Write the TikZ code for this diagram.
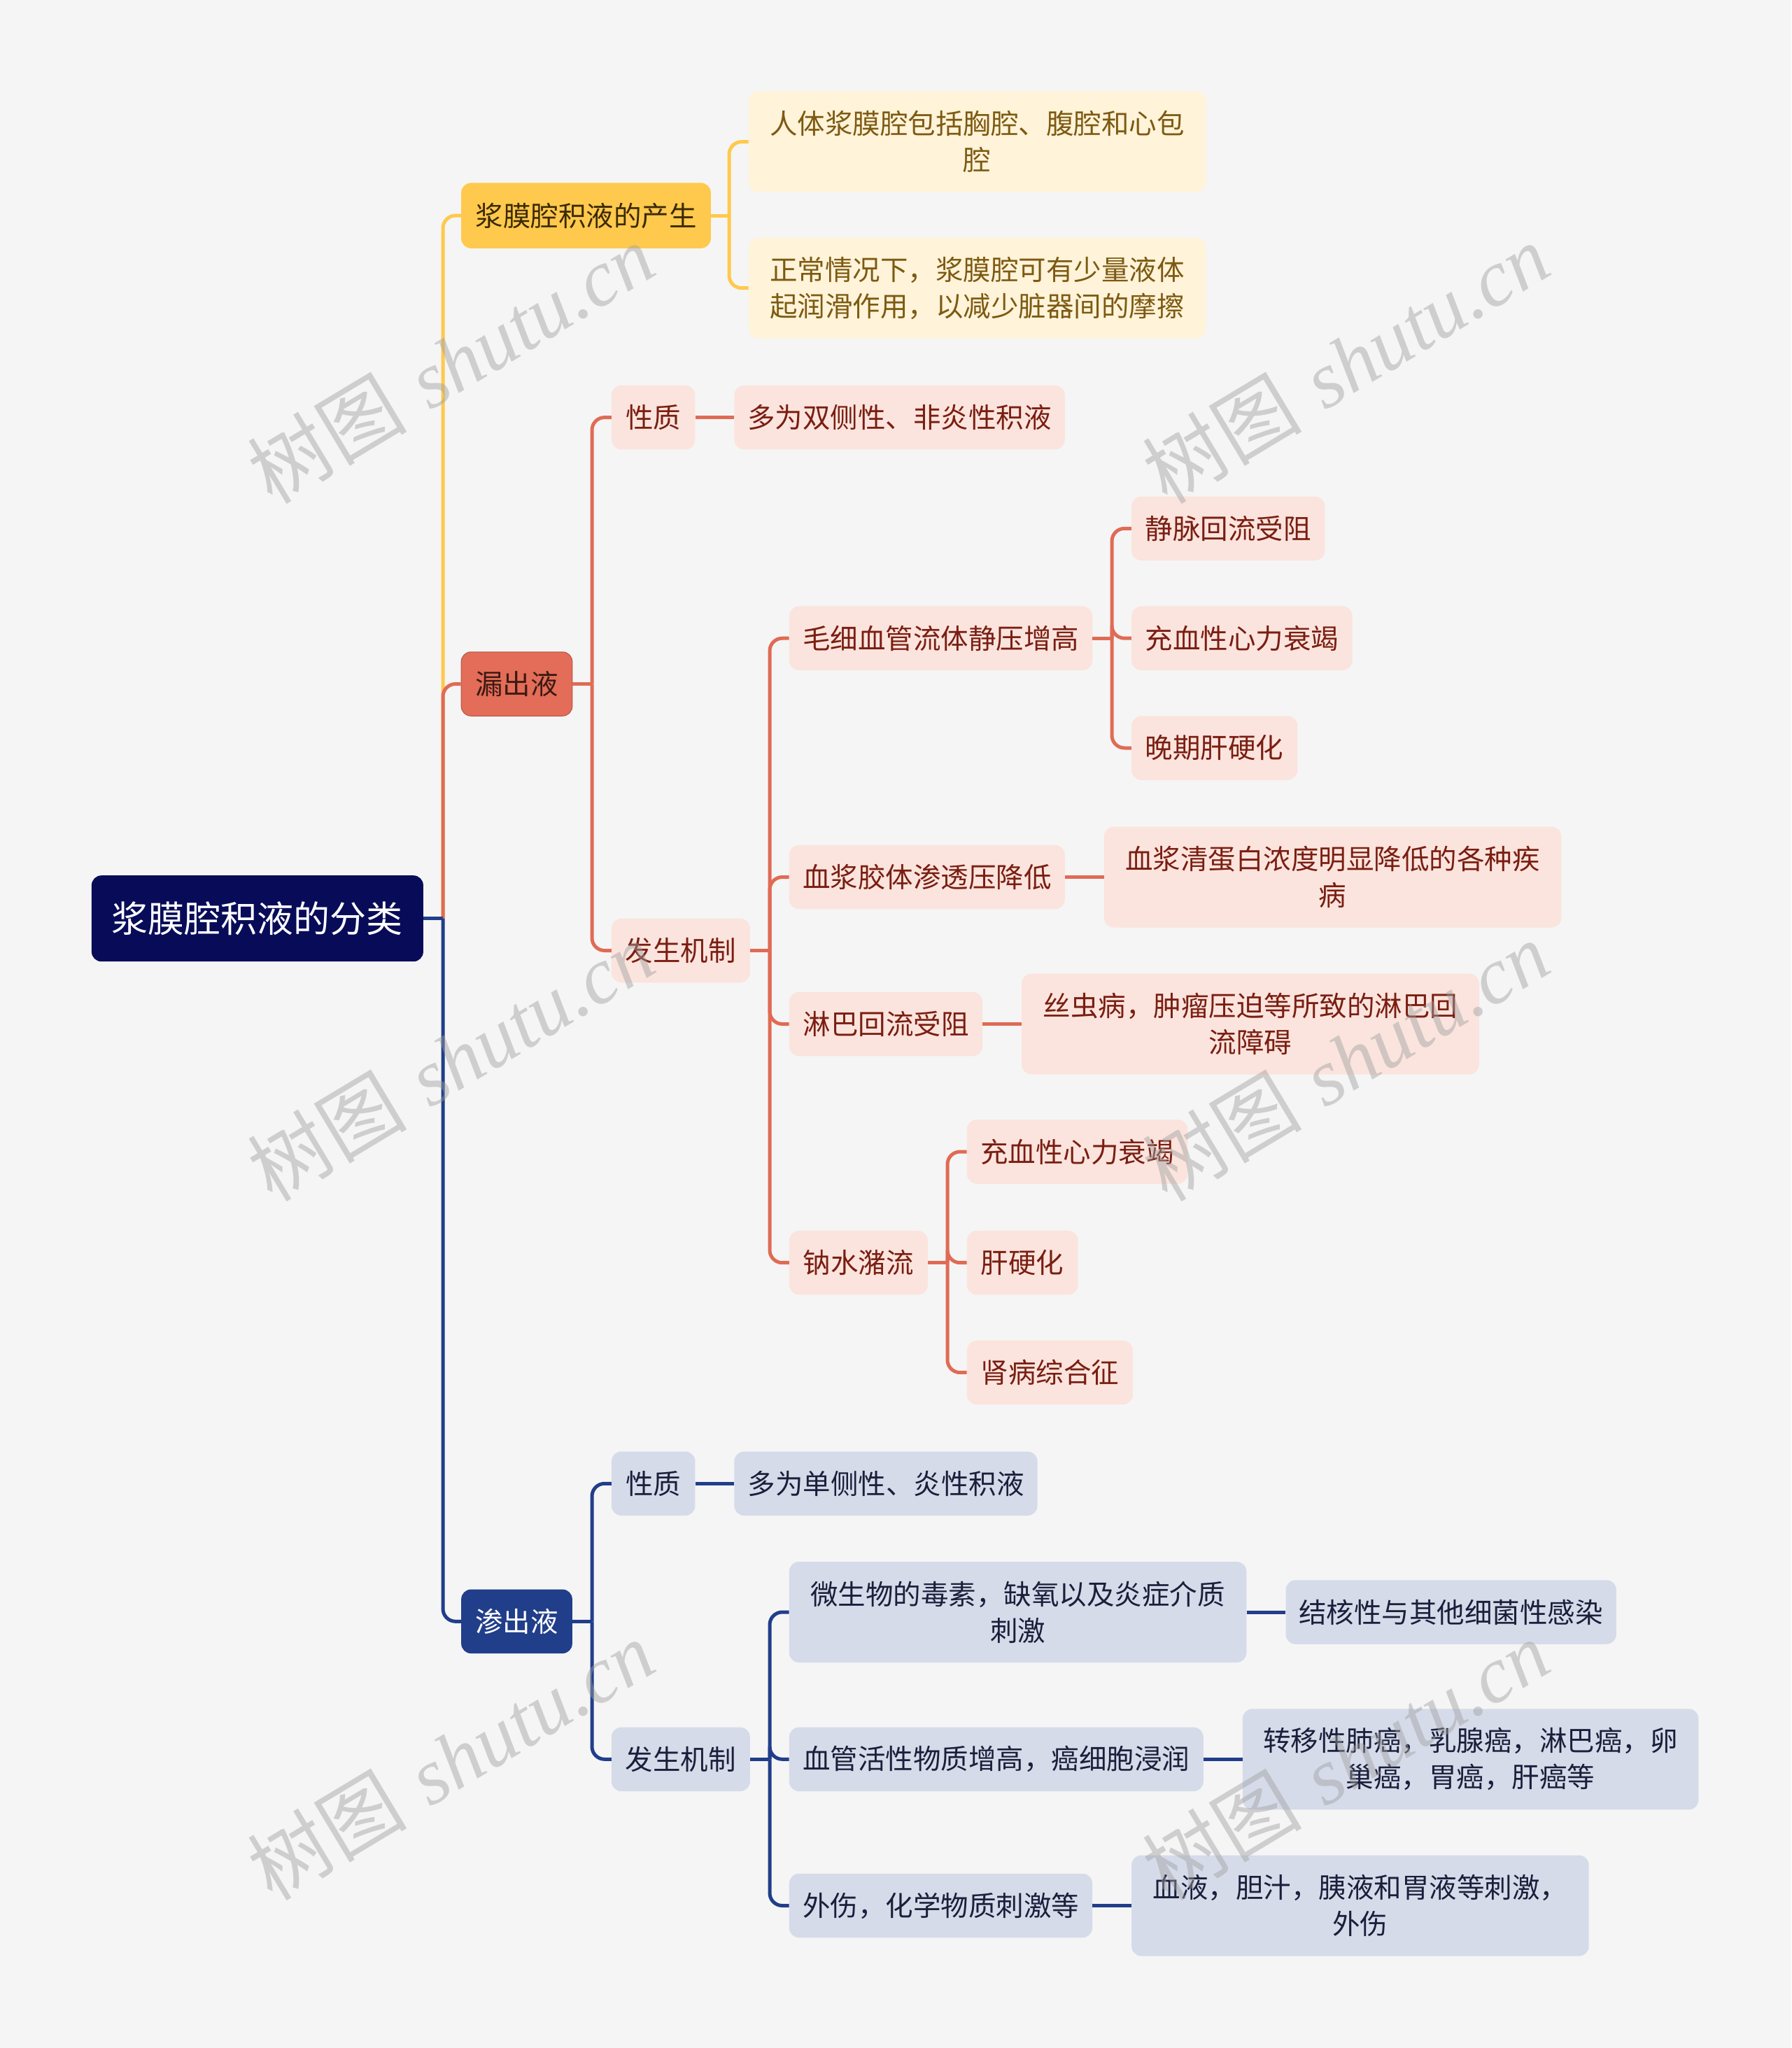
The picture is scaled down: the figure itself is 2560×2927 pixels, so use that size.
\documentclass[tikz,border=0pt]{standalone}
\usepackage{fontspec}
\newfontfamily\cjk{Noto Sans CJK SC}
\newfontfamily\wmlat{Liberation Serif}
\definecolor{bgc}{HTML}{F5F5F5}
\definecolor{rootfill}{HTML}{080C58}
\definecolor{yfill}{HTML}{FFC94D}
\definecolor{ylight}{HTML}{FFF3D9}
\definecolor{ytext}{HTML}{3B2A05}
\definecolor{yltext}{HTML}{7D5A12}
\definecolor{rfill}{HTML}{E36D58}
\definecolor{rlight}{HTML}{FBE4DD}
\definecolor{rtext}{HTML}{3C1A12}
\definecolor{rltext}{HTML}{7A1E12}
\definecolor{nfill}{HTML}{213E8A}
\definecolor{nlight}{HTML}{D6DBEA}
\definecolor{nltext}{HTML}{1B1F3B}
\definecolor{yline}{HTML}{FFC94D}
\definecolor{rline}{HTML}{E06B55}
\definecolor{nline}{HTML}{213E8A}
\definecolor{wmc}{HTML}{A0A0A0}
\begin{document}
\begin{tikzpicture}[x=1pt,y=-1pt,
  box/.style={rectangle, rounded corners=14pt, inner sep=0pt, align=center,
    minimum height=91.5pt, font=\cjk\fontsize{39.5}{52}\selectfont},
  tall/.style={minimum height=144pt},
  rootbox/.style={box, fill=rootfill, text=white, font=\cjk\fontsize{52}{62}\selectfont},
  ymain/.style={box, fill=yfill, text=ytext},
  ysub/.style={box, fill=ylight, text=yltext},
  rmain/.style={box, fill=rfill, text=rtext, draw=rline!80!black, line width=1pt},
  rsub/.style={box, fill=rlight, text=rltext},
  nmain/.style={box, fill=nfill, text=white},
  nsub/.style={box, fill=nlight, text=nltext},
  conn/.style={line width=5pt},
  yconn/.style={conn, draw=yline},
  rconn/.style={conn, draw=rline},
  nconn/.style={conn, draw=nline},
  rcorner/.style={rounded corners=18pt},
  wm/.style={text=wmc, opacity=0.45, rotate=31, font=\fontsize{114}{114}\selectfont}
]
\fill[bgc] (0,0) rectangle (2560,2927);

% nodes
\node[rootbox, minimum width=474pt, minimum height=123pt] (root) at (367.9,1312.7) {浆膜腔积液的分类};

\node[ymain, minimum width=356.7pt, minimum height=93.4pt] (a) at (837.5,308.1) {浆膜腔积液的产生};
\node[ysub, tall, minimum width=653.6pt] (a1) at (1396.7,202.6) {人体浆膜腔包括胸腔、腹腔和心包\\腔};
\node[ysub, tall, minimum width=653.6pt] (a2) at (1396.7,411.7) {正常情况下，浆膜腔可有少量液体\\起润滑作用，以减少脏器间的摩擦};

\node[rmain, minimum width=158.7pt] (b) at (738.5,977.5) {漏出液};
\node[rsub, minimum width=119.5pt] (b1) at (933.7,596.6) {性质};
\node[rsub, minimum width=472.4pt] (b1a) at (1285.6,596.6) {多为双侧性、非炎性积液};
\node[rsub, minimum width=197.9pt] (b2) at (972.9,1358.5) {发生机制};
\node[rsub, minimum width=433.2pt] (b2a) at (1344.5,912.2) {毛细血管流体静压增高};
\node[rsub, minimum width=276.4pt] (b2a1) at (1755.2,755.3) {静脉回流受阻};
\node[rsub, minimum width=315.6pt] (b2a2) at (1774.9,912.2) {充血性心力衰竭};
\node[rsub, minimum width=237.1pt] (b2a3) at (1735.7,1069.0) {晚期肝硬化};
\node[rsub, minimum width=394pt] (b2b) at (1324.8,1253.5) {血浆胶体渗透压降低};
\node[rsub, tall, minimum width=653.6pt] (b2b1) at (1904.6,1253.5) {血浆清蛋白浓度明显降低的各种疾\\病};
\node[rsub, minimum width=276.4pt] (b2c) at (1266.0,1463.5) {淋巴回流受阻};
\node[rsub, tall, minimum width=653.6pt] (b2c1) at (1787.0,1463.5) {丝虫病，肿瘤压迫等所致的淋巴回\\流障碍};
\node[rsub, minimum width=197.9pt] (b2d) at (1226.9,1804.7) {钠水潴流};
\node[rsub, minimum width=315.6pt] (b2d1) at (1539.6,1646.0) {充血性心力衰竭};
\node[rsub, minimum width=158.7pt] (b2d2) at (1461.2,1804.7) {肝硬化};
\node[rsub, minimum width=237.1pt] (b2d3) at (1500.4,1961.6) {肾病综合征};

\node[nmain, minimum width=158.7pt] (c) at (738.5,2317.3) {渗出液};
\node[nsub, minimum width=119.5pt] (c1) at (933.7,2120.3) {性质};
\node[nsub, minimum width=433.2pt] (c1a) at (1266.0,2120.3) {多为单侧性、炎性积液};
\node[nsub, minimum width=197.9pt] (c2) at (972.9,2514.3) {发生机制};
\node[nsub, tall, minimum width=653.6pt] (c2a) at (1454.6,2304.0) {微生物的毒素，缺氧以及炎症介质\\刺激};
\node[nsub, minimum width=472.4pt] (c2a1) at (2073.7,2304.0) {结核性与其他细菌性感染};
\node[nsub, minimum width=591.9pt] (c2b) at (1423.8,2514.3) {血管活性物质增高，癌细胞浸润};
\node[nsub, tall, minimum width=651.7pt] (c2b1) at (2101.6,2514.3) {转移性肺癌，乳腺癌，淋巴癌，卵\\巢癌，胃癌，肝癌等};
\node[nsub, minimum width=433.2pt] (c2c) at (1344.5,2723.5) {外伤，化学物质刺激等};
\node[nsub, tall, minimum width=653.6pt] (c2c1) at (1943.9,2723.5) {血液，胆汁，胰液和胃液等刺激，\\外伤};

% junctions
\coordinate (jr) at (633,1312.7);
\coordinate (ja) at (1042,308.1);
\coordinate (jb) at (846,977.5);
\coordinate (jb2) at (1100,1358.5);
\coordinate (jb2a) at (1589,912.2);
\coordinate (jb2d) at (1354,1804.7);
\coordinate (jc) at (846,2317.3);
\coordinate (jc2) at (1100,2514.3);

% root branches
\draw[yconn, rcorner] (jr) |- (a.west);
\draw[rconn, rcorner] (jr) |- (b.west);
\draw[nconn, rcorner] (jr) |- (c.west);
\draw[nconn] (root.east) -- (jr);

% yellow branch
\draw[yconn] (a.east) -- (ja);
\draw[yconn, rcorner] (ja) |- (a1.west);
\draw[yconn, rcorner] (ja) |- (a2.west);

% red branch
\draw[rconn] (b.east) -- (jb);
\draw[rconn, rcorner] (jb) |- (b1.west);
\draw[rconn, rcorner] (jb) |- (b2.west);
\draw[rconn] (b1.east) -- (b1a.west);
\draw[rconn] (b2.east) -- (jb2);
\draw[rconn, rcorner] (jb2) |- (b2a.west);
\draw[rconn, rcorner] (jb2) |- (b2b.west);
\draw[rconn, rcorner] (jb2) |- (b2c.west);
\draw[rconn, rcorner] (jb2) |- (b2d.west);
\draw[rconn] (b2a.east) -- (jb2a);
\draw[rconn, rcorner] (jb2a) |- (b2a1.west);
\draw[rconn, rcorner] (jb2a) |- (b2a2.west);
\draw[rconn, rcorner] (jb2a) |- (b2a3.west);
\draw[rconn] (b2b.east) -- (b2b1.west);
\draw[rconn] (b2c.east) -- (b2c1.west);
\draw[rconn] (b2d.east) -- (jb2d);
\draw[rconn, rcorner] (jb2d) |- (b2d1.west);
\draw[rconn, rcorner] (jb2d) |- (b2d2.west);
\draw[rconn, rcorner] (jb2d) |- (b2d3.west);

% navy branch
\draw[nconn] (c.east) -- (jc);
\draw[nconn, rcorner] (jc) |- (c1.west);
\draw[nconn, rcorner] (jc) |- (c2.west);
\draw[nconn] (c1.east) -- (c1a.west);
\draw[nconn] (c2.east) -- (jc2);
\draw[nconn, rcorner] (jc2) |- (c2a.west);
\draw[nconn, rcorner] (jc2) |- (c2b.west);
\draw[nconn, rcorner] (jc2) |- (c2c.west);
\draw[nconn] (c2a.east) -- (c2a1.west);
\draw[nconn] (c2b.east) -- (c2b1.west);
\draw[nconn] (c2c.east) -- (c2c1.west);

% watermarks
\foreach \wx/\wy/\wn in {644/519/1,1923/519/2,644/1516/3,1923/1516/4,644/2515/5,1923/2515/6}{
  \node[wm] (wm\wn) at (\wx,\wy) {{\cjk 树图} {\wmlat\itshape shutu.cn}};
}
\end{tikzpicture}
\end{document}
